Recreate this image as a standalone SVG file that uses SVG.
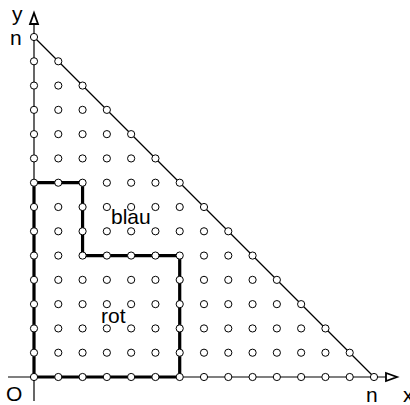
<svg xmlns="http://www.w3.org/2000/svg" width="410" height="405" viewBox="0 0 410 405">
<style>
.ax{stroke:#000;stroke-width:1.2;fill:none}
.th{stroke:#000;stroke-width:3.2;fill:none;stroke-linejoin:miter}
.ar{fill:#fff;stroke:#000;stroke-width:1.8}
.p circle{fill:#fff;stroke:#000;stroke-width:1}
text{font-family:"Liberation Sans",Arial,sans-serif;font-size:21px;fill:#000}
</style>
<rect width="410" height="405" fill="#fff"/>
<g id="axes">
<line class="ax" x1="8" y1="377" x2="386" y2="377"/>
<line class="ax" x1="34" y1="401" x2="34" y2="24"/>
<polygon class="ar" points="386,373 397,377 386,381"/>
<polygon class="ar" points="30,24 34,13 38,24"/>
<line class="ax" x1="34" y1="37" x2="374" y2="377"/>
</g>
<g id="connectors">
<path class="th" d="M34,377 H179.71 V255.57 H82.57 V182.71 H34 Z"/>
</g>
<g id="points" class="p">
<g transform="translate(0,377)"><circle cx="34" cy="0" r="3.6"/><circle cx="58.29" cy="0" r="3.6"/><circle cx="82.57" cy="0" r="3.6"/><circle cx="106.86" cy="0" r="3.6"/><circle cx="131.14" cy="0" r="3.6"/><circle cx="155.43" cy="0" r="3.6"/><circle cx="179.71" cy="0" r="3.6"/><circle cx="204" cy="0" r="3.6"/><circle cx="228.29" cy="0" r="3.6"/><circle cx="252.57" cy="0" r="3.6"/><circle cx="276.86" cy="0" r="3.6"/><circle cx="301.14" cy="0" r="3.6"/><circle cx="325.43" cy="0" r="3.6"/><circle cx="349.71" cy="0" r="3.6"/><circle cx="374" cy="0" r="3.6"/></g>
<g transform="translate(0,352.71)"><circle cx="34" cy="0" r="3.6"/><circle cx="58.29" cy="0" r="3.6"/><circle cx="82.57" cy="0" r="3.6"/><circle cx="106.86" cy="0" r="3.6"/><circle cx="131.14" cy="0" r="3.6"/><circle cx="155.43" cy="0" r="3.6"/><circle cx="179.71" cy="0" r="3.6"/><circle cx="204" cy="0" r="3.6"/><circle cx="228.29" cy="0" r="3.6"/><circle cx="252.57" cy="0" r="3.6"/><circle cx="276.86" cy="0" r="3.6"/><circle cx="301.14" cy="0" r="3.6"/><circle cx="325.43" cy="0" r="3.6"/><circle cx="349.71" cy="0" r="3.6"/></g>
<g transform="translate(0,328.43)"><circle cx="34" cy="0" r="3.6"/><circle cx="58.29" cy="0" r="3.6"/><circle cx="82.57" cy="0" r="3.6"/><circle cx="106.86" cy="0" r="3.6"/><circle cx="131.14" cy="0" r="3.6"/><circle cx="155.43" cy="0" r="3.6"/><circle cx="179.71" cy="0" r="3.6"/><circle cx="204" cy="0" r="3.6"/><circle cx="228.29" cy="0" r="3.6"/><circle cx="252.57" cy="0" r="3.6"/><circle cx="276.86" cy="0" r="3.6"/><circle cx="301.14" cy="0" r="3.6"/><circle cx="325.43" cy="0" r="3.6"/></g>
<g transform="translate(0,304.14)"><circle cx="34" cy="0" r="3.6"/><circle cx="58.29" cy="0" r="3.6"/><circle cx="82.57" cy="0" r="3.6"/><circle cx="106.86" cy="0" r="3.6"/><circle cx="131.14" cy="0" r="3.6"/><circle cx="155.43" cy="0" r="3.6"/><circle cx="179.71" cy="0" r="3.6"/><circle cx="204" cy="0" r="3.6"/><circle cx="228.29" cy="0" r="3.6"/><circle cx="252.57" cy="0" r="3.6"/><circle cx="276.86" cy="0" r="3.6"/><circle cx="301.14" cy="0" r="3.6"/></g>
<g transform="translate(0,279.86)"><circle cx="34" cy="0" r="3.6"/><circle cx="58.29" cy="0" r="3.6"/><circle cx="82.57" cy="0" r="3.6"/><circle cx="106.86" cy="0" r="3.6"/><circle cx="131.14" cy="0" r="3.6"/><circle cx="155.43" cy="0" r="3.6"/><circle cx="179.71" cy="0" r="3.6"/><circle cx="204" cy="0" r="3.6"/><circle cx="228.29" cy="0" r="3.6"/><circle cx="252.57" cy="0" r="3.6"/><circle cx="276.86" cy="0" r="3.6"/></g>
<g transform="translate(0,255.57)"><circle cx="34" cy="0" r="3.6"/><circle cx="58.29" cy="0" r="3.6"/><circle cx="82.57" cy="0" r="3.6"/><circle cx="106.86" cy="0" r="3.6"/><circle cx="131.14" cy="0" r="3.6"/><circle cx="155.43" cy="0" r="3.6"/><circle cx="179.71" cy="0" r="3.6"/><circle cx="204" cy="0" r="3.6"/><circle cx="228.29" cy="0" r="3.6"/><circle cx="252.57" cy="0" r="3.6"/></g>
<g transform="translate(0,231.29)"><circle cx="34" cy="0" r="3.6"/><circle cx="58.29" cy="0" r="3.6"/><circle cx="82.57" cy="0" r="3.6"/><circle cx="106.86" cy="0" r="3.6"/><circle cx="131.14" cy="0" r="3.6"/><circle cx="155.43" cy="0" r="3.6"/><circle cx="179.71" cy="0" r="3.6"/><circle cx="204" cy="0" r="3.6"/><circle cx="228.29" cy="0" r="3.6"/></g>
<g transform="translate(0,207)"><circle cx="34" cy="0" r="3.6"/><circle cx="58.29" cy="0" r="3.6"/><circle cx="82.57" cy="0" r="3.6"/><circle cx="106.86" cy="0" r="3.6"/><circle cx="131.14" cy="0" r="3.6"/><circle cx="155.43" cy="0" r="3.6"/><circle cx="179.71" cy="0" r="3.6"/><circle cx="204" cy="0" r="3.6"/></g>
<g transform="translate(0,182.71)"><circle cx="34" cy="0" r="3.6"/><circle cx="58.29" cy="0" r="3.6"/><circle cx="82.57" cy="0" r="3.6"/><circle cx="106.86" cy="0" r="3.6"/><circle cx="131.14" cy="0" r="3.6"/><circle cx="155.43" cy="0" r="3.6"/><circle cx="179.71" cy="0" r="3.6"/></g>
<g transform="translate(0,158.43)"><circle cx="34" cy="0" r="3.6"/><circle cx="58.29" cy="0" r="3.6"/><circle cx="82.57" cy="0" r="3.6"/><circle cx="106.86" cy="0" r="3.6"/><circle cx="131.14" cy="0" r="3.6"/><circle cx="155.43" cy="0" r="3.6"/></g>
<g transform="translate(0,134.14)"><circle cx="34" cy="0" r="3.6"/><circle cx="58.29" cy="0" r="3.6"/><circle cx="82.57" cy="0" r="3.6"/><circle cx="106.86" cy="0" r="3.6"/><circle cx="131.14" cy="0" r="3.6"/></g>
<g transform="translate(0,109.86)"><circle cx="34" cy="0" r="3.6"/><circle cx="58.29" cy="0" r="3.6"/><circle cx="82.57" cy="0" r="3.6"/><circle cx="106.86" cy="0" r="3.6"/></g>
<g transform="translate(0,85.57)"><circle cx="34" cy="0" r="3.6"/><circle cx="58.29" cy="0" r="3.6"/><circle cx="82.57" cy="0" r="3.6"/></g>
<g transform="translate(0,61.29)"><circle cx="34" cy="0" r="3.6"/><circle cx="58.29" cy="0" r="3.6"/></g>
<g transform="translate(0,37)"><circle cx="34" cy="0" r="3.6"/></g>
</g>
<g id="labels">
<text x="12" y="21">y</text>
<text x="10" y="45">n</text>
<text x="6" y="401">O</text>
<text x="366" y="402">n</text>
<text x="403" y="402">x</text>
<text x="111" y="224">blau</text>
<text x="101" y="323">rot</text>
</g>
</svg>
